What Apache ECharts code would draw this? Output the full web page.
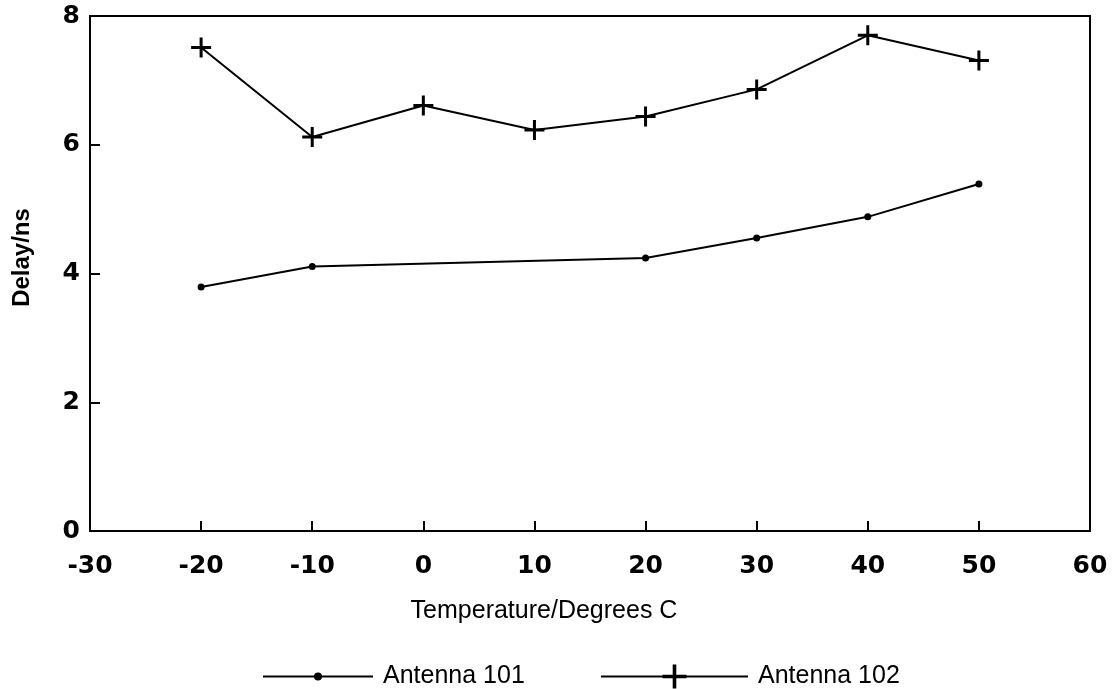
<!DOCTYPE html>
<html>
<head>
<meta charset="utf-8">
<title>Delay vs Temperature</title>
<script src="https://cdn.jsdelivr.net/npm/echarts@6/dist/echarts.min.js"></script>
<style>
  html, body { margin: 0; padding: 0; background: #ffffff; }
  #chart { width: 1116px; height: 689px; }
</style>
</head>
<body>
<div id="chart"></div>
<script>
// Measured delay (ns) against temperature (degrees C)
const temps102 = [-20, -10, 0, 10, 20, 30, 40, 50];
const antenna102 = [7.51, 6.12, 6.61, 6.23, 6.44, 6.86, 7.70, 7.31];

const temps101 = [-20, -10, 20, 30, 40, 50];
const antenna101 = [3.79, 4.11, 4.24, 4.55, 4.88, 5.39];

const seriesNames = ['Antenna 101', 'Antenna 102'];
const xTitle = 'Temperature/Degrees C';
const yTitle = 'Delay/ns';

// Plus-shaped filled marker
const plusPath = 'path://M-1.5,-10 L1.5,-10 L1.5,-1.5 L10,-1.5 L10,1.5 L1.5,1.5 L1.5,10 L-1.5,10 L-1.5,1.5 L-10,1.5 L-10,-1.5 L-1.5,-1.5 Z';

const tickFont = { fontFamily: 'DejaVu Sans', fontWeight: 'bold', fontSize: 25, color: '#000' };
const textFont = { fontFamily: 'Liberation Sans', fontSize: 25, color: '#000' };

const chart = echarts.init(document.getElementById('chart'), null, { renderer: 'canvas' });

chart.setOption({
  backgroundColor: '#ffffff',
  animation: false,
  grid: {
    left: 90, right: 26, top: 16, bottom: 158,
    show: true, borderColor: '#000', borderWidth: 2, backgroundColor: 'transparent'
  },
  legend: [
    {
      data: [seriesNames[0]],
      left: 257, top: 659,
      itemWidth: 110, itemHeight: 10,
      textStyle: Object.assign({}, textFont, { padding: [0, 0, 0, 5] })
    },
    {
      data: [seriesNames[1]],
      left: 595, top: 659,
      itemWidth: 147, itemHeight: 30,
      textStyle: Object.assign({}, textFont, { padding: [0, 0, 0, 5] })
    }
  ],
  xAxis: {
    type: 'value',
    min: -30, max: 60, interval: 10,
    name: xTitle,
    nameLocation: 'middle',
    nameGap: 68,
    nameTextStyle: Object.assign({}, textFont, { padding: [0, 92, 0, 0] }),
    axisLine: { show: true, onZero: false, lineStyle: { color: '#000', width: 2 } },
    axisTick: { show: true, inside: true, length: 10, lineStyle: { color: '#000', width: 2 } },
    axisLabel: Object.assign({}, tickFont, { margin: 23 }),
    splitLine: { show: false }
  },
  yAxis: {
    type: 'value',
    min: 0, max: 8, interval: 2,
    name: yTitle,
    nameLocation: 'middle',
    nameGap: 56,
    nameRotate: 90,
    nameTextStyle: Object.assign({}, textFont, { fontSize: 24, fontWeight: 'bold', padding: [0, 0, 0, 32] }),
    axisLine: { show: true, onZero: false, lineStyle: { color: '#000', width: 2 } },
    axisTick: { show: true, inside: true, length: 10, lineStyle: { color: '#000', width: 2 } },
    axisLabel: Object.assign({}, tickFont, { margin: 10, padding: [6, 0, 0, 0] }),
    splitLine: { show: false }
  },
  series: [
    {
      name: seriesNames[0],
      type: 'line',
      data: temps101.map((t, i) => [t, antenna101[i]]),
      symbol: 'circle',
      symbolSize: 7,
      itemStyle: { color: '#000' },
      lineStyle: { color: '#000', width: 2 }
    },
    {
      name: seriesNames[1],
      type: 'line',
      data: temps102.map((t, i) => [t, antenna102[i]]),
      symbol: plusPath,
      symbolSize: 20,
      itemStyle: { color: '#000' },
      lineStyle: { color: '#000', width: 2 }
    }
  ]
});
</script>
</body>
</html>
